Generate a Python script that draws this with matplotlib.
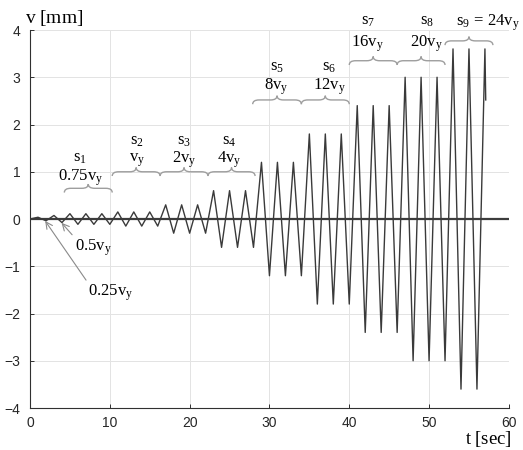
import matplotlib
matplotlib.use('Agg')
import matplotlib.pyplot as plt
from matplotlib.path import Path
from matplotlib.patches import PathPatch

plt.rcParams['font.family'] = ['Liberation Sans', 'DejaVu Sans']
plt.rcParams['mathtext.fontset'] = 'custom'
plt.rcParams['mathtext.rm'] = 'Liberation Serif'
plt.rcParams['mathtext.it'] = 'Liberation Serif:italic'

# displacement history (vy = 0.15 mm), one point per half cycle
t = [0, 1, 2, 3, 4,
     5, 6, 7, 8, 9, 10,
     11, 12, 13, 14, 15, 16,
     17, 18, 19, 20, 21, 22,
     23, 24, 25, 26, 27, 28,
     29, 30, 31, 32, 33, 34,
     35, 36, 37, 38, 39, 40,
     41, 42, 43, 44, 45, 46,
     47, 48, 49, 50, 51, 52,
     53, 54, 55, 56, 57, 57.1]
v = [0, 0.0375, -0.0375, 0.075, -0.075,
     0.1125, -0.1125, 0.1125, -0.1125, 0.1125, -0.1125,
     0.15, -0.15, 0.15, -0.15, 0.15, -0.15,
     0.3, -0.3, 0.3, -0.3, 0.3, -0.3,
     0.6, -0.6, 0.6, -0.6, 0.6, -0.6,
     1.2, -1.2, 1.2, -1.2, 1.2, -1.2,
     1.8, -1.8, 1.8, -1.8, 1.8, -1.8,
     2.4, -2.4, 2.4, -2.4, 2.4, -2.4,
     3.0, -3.0, 3.0, -3.0, 3.0, -3.0,
     3.6, -3.6, 3.6, -3.6, 3.6, 2.52]

# loading stages
stage_names = ['s_1', 's_2', 's_3', 's_4', 's_5', 's_6', 's_7', 's_8']
stage_amps = ['0.75v_y', 'v_y', '2v_y', '4v_y', '8v_y', '12v_y', '16v_y', '20v_y']
stage_start = [4.3, 10.3, 16.3, 22.3, 27.9, 34.0, 40.0, 46.0, 52.0]
stage_end = [10.3, 16.3, 22.3, 28.2, 34.0, 40.0, 46.0, 52.0, 58.0]

# label layout: x centre, name height, amplitude height, brace height
lab_x = [6.3, 13.4, 19.3, 25.0, 30.9, 37.5, 42.3, 49.7]
name_y = [1.29, 1.65, 1.65, 1.65, 3.20, 3.20, 4.17, 4.17]
amp_y = [0.87, 1.25, 1.25, 1.25, 2.81, 2.81, 3.72, 3.72]
brace_y = [0.65, 1.0, 1.0, 1.0, 2.52, 2.52, 3.35, 3.35, 3.77]

fig = plt.figure(figsize=(5.23, 4.5), dpi=100)
ax = fig.add_axes([0.0574, 0.0933, 0.9156, 0.84])

ax.axhline(0, color='#3c3c3c', lw=1.6, zorder=2)
ax.plot(t, v, color='#3a3a3a', lw=1.0, zorder=3)

ax.set_xlim(0, 60)
ax.set_ylim(-4, 4)
ax.set_xticks(range(0, 61, 10))
ax.set_yticks(range(-4, 5))
ax.grid(True, color='#e3e3e3', lw=0.7)
ax.set_axisbelow(True)
for side in ['top', 'right']:
    ax.spines[side].set_visible(False)
for side in ['left', 'bottom']:
    ax.spines[side].set_color('#303030')
    ax.spines[side].set_linewidth(0.8)
ax.tick_params(direction='in', length=3, width=0.7, color='#303030',
               labelsize=10, labelcolor='#262626')
ax.tick_params(axis='y', pad=7)
ax.tick_params(axis='x', pad=6)


def brace(x0, x1, y, w=0.8, h=0.09, color='#9e9e9e'):
    xm = 0.5 * (x0 + x1)
    verts = [(x0, y - h), (x0, y), (x0 + w, y),
             (xm - w, y), (xm, y), (xm, y + h),
             (xm, y), (xm + w, y),
             (x1 - w, y), (x1, y), (x1, y - h)]
    codes = [Path.MOVETO, Path.CURVE3, Path.CURVE3,
             Path.LINETO, Path.CURVE3, Path.CURVE3,
             Path.CURVE3, Path.CURVE3,
             Path.LINETO, Path.CURVE3, Path.CURVE3]
    ax.add_patch(PathPatch(Path(verts, codes), fill=False, ec=color,
                           lw=1.0, clip_on=False, zorder=4))


for i in range(len(stage_start)):
    brace(stage_start[i], stage_end[i], brace_y[i])

for i in range(len(stage_names)):
    ax.text(lab_x[i], name_y[i], r'$\mathrm{' + stage_names[i] + '}$',
            ha='center', va='center', fontsize=12, clip_on=False)
    ax.text(lab_x[i], amp_y[i], r'$\mathrm{' + stage_amps[i] + '}$',
            ha='center', va='center', fontsize=12, clip_on=False)

ax.text(57.4, 4.15, r'$\mathrm{s_9\,=\,24v_y}$', ha='center', va='center',
        fontsize=12, clip_on=False)

arrow = dict(arrowstyle='->,head_length=0.4,head_width=0.2', color='#8a8a8a',
             lw=0.8, shrinkA=0, shrinkB=0, relpos=(0, 1))
ax.annotate(r'$\mathrm{0.5v_y}$', xy=(3.95, -0.08), xytext=(7.9, -0.61),
            ha='center', va='center', fontsize=12, arrowprops=arrow)
ax.annotate(r'$\mathrm{0.25v_y}$', xy=(1.9, -0.04), xytext=(10.1, -1.57),
            ha='center', va='center', fontsize=12, arrowprops=arrow)

ax.text(-0.6, 4.15, r'$\mathrm{v\ [mm]}$', ha='left', va='baseline',
        fontsize=14, clip_on=False)
ax.text(60.4, -4.76, r'$\mathrm{t\ [sec]}$', ha='right', va='baseline',
        fontsize=13.5, clip_on=False)

fig.savefig('out.png', dpi=100)
